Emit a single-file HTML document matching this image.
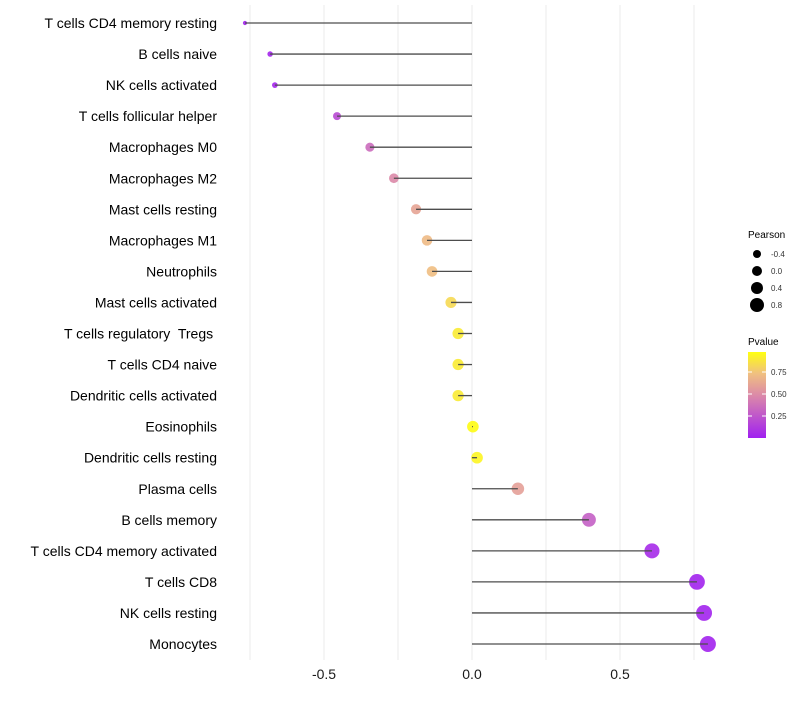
<!DOCTYPE html>
<html><head><meta charset="utf-8"><style>
body{margin:0;background:#fff;font-family:"Liberation Sans",sans-serif;}
svg text{font-family:"Liberation Sans",sans-serif;white-space:pre;}
</style></head><body>
<svg id="chart" width="800" height="700" xmlns="http://www.w3.org/2000/svg">
<defs><linearGradient id="pg" x1="0" y1="1" x2="0" y2="0">
<stop offset="0" stop-color="#a020f0"/><stop offset="0.5" stop-color="#dc8aa8"/><stop offset="0.75" stop-color="#f0c080"/><stop offset="1" stop-color="#ffff10"/></linearGradient></defs>
<g id="grid"></g><g id="points"></g><g id="stems"></g><g id="labels"></g>
<g>
<text x="748" y="238" font-size="10" fill="#000">Pearson</text>
<g id="sizeLegend"></g>
<text x="748" y="345" font-size="10" fill="#000">Pvalue</text>
<rect x="748" y="352" width="18" height="86" fill="url(#pg)"/>
<g id="colorTicks"></g>
</g>
</svg>
<script>
const categories=["T cells CD4 memory resting","B cells naive","NK cells activated","T cells follicular helper","Macrophages M0","Macrophages M2","Mast cells resting","Macrophages M1","Neutrophils","Mast cells activated","T cells regulatory  Tregs ","T cells CD4 naive","Dendritic cells activated","Eosinophils","Dendritic cells resting","Plasma cells","B cells memory","T cells CD4 memory activated","T cells CD8","NK cells resting","Monocytes"];
const pearson=[-0.767,-0.682,-0.666,-0.456,-0.345,-0.264,-0.189,-0.152,-0.135,-0.071,-0.047,-0.047,-0.047,0.003,0.017,0.155,0.395,0.608,0.76,0.784,0.797];
const pvalue=[0.02,0.03,0.03,0.2,0.36,0.5,0.62,0.72,0.74,0.85,0.92,0.92,0.92,0.99,0.96,0.6,0.3,0.05,0.02,0.02,0.02];
const xTicks=[-0.5,0,0.5];
const xTickLabels=["-0.5","0.0","0.5"];
const gridVals=[-0.75,-0.5,-0.25,0,0.25,0.5,0.75];
const sizeLegendVals=[-0.4,0.0,0.4,0.8];
const colorTickVals=[0.25,0.5,0.75];
const NS="http://www.w3.org/2000/svg";
const xs=v=>472+v*296;
const ys=i=>23+i*31.05;
const rs=v=>Math.sqrt(Math.max(2.25,16+(v+0.46)*38));
function lerp(a,b,t){return Math.round(a+(b-a)*t);}
function col(p){const st=[[0,[160,32,240]],[0.5,[220,138,168]],[0.75,[240,192,128]],[1,[255,255,16]]];
for(let k=1;k<st.length;k++){if(p<=st[k][0]){const t=(p-st[k-1][0])/(st[k][0]-st[k-1][0]);const a=st[k-1][1],b=st[k][1];return `rgb(${lerp(a[0],b[0],t)},${lerp(a[1],b[1],t)},${lerp(a[2],b[2],t)})`;}}return "rgb(255,255,16)";}
function mk(tag,attrs,parent){const e=document.createElementNS(NS,tag);for(const k in attrs)e.setAttribute(k,attrs[k]);parent.appendChild(e);return e;}
const grid=document.getElementById('grid'),pts=document.getElementById('points'),stems=document.getElementById('stems'),labels=document.getElementById('labels');
gridVals.forEach(v=>{const l=mk('line',{x1:xs(v),x2:xs(v),y1:5,y2:660,stroke:'#ebebeb','stroke-width':1},grid);

});
categories.forEach((c,i)=>{
const y=ys(i);
const pt=mk('circle',{cx:xs(pearson[i]),cy:y,r:rs(pearson[i]),fill:col(pvalue[i]),'fill-opacity':0.9},pts);


const ln=mk('line',{x1:xs(0),x2:xs(pearson[i]),y1:y,y2:y,stroke:'#4d4d4d','stroke-width':1.3},stems);


const t=mk('text',{x:217,y:y+5,'text-anchor':'end','font-size':14,fill:'#000'},labels);
t.textContent=c;


});
xTicks.forEach((v,i)=>{const t=mk('text',{x:xs(v),y:679,'text-anchor':'middle','font-size':14,fill:'#1a1a1a'},labels);
t.textContent=xTickLabels[i];

});
const sl=document.getElementById('sizeLegend');
sizeLegendVals.forEach((v,i)=>{const y=254+i*17;
const c=mk('circle',{cx:757,cy:y,r:4+i*1,fill:'#000'},sl);


const t=mk('text',{x:771,y:y+3,'font-size':8,fill:'#333'},sl);
t.textContent=v.toFixed(1);

});
const ct=document.getElementById('colorTicks');
colorTickVals.forEach(v=>{const y=438-v*88;
mk('line',{x1:748,x2:752,y1:y,y2:y,stroke:'#fff','stroke-width':1},ct);
mk('line',{x1:762,x2:766,y1:y,y2:y,stroke:'#fff','stroke-width':1},ct);
const t=mk('text',{x:771,y:y+3,'font-size':8,fill:'#333'},ct);
t.textContent=v.toFixed(2);

});
</script>
</body></html>
